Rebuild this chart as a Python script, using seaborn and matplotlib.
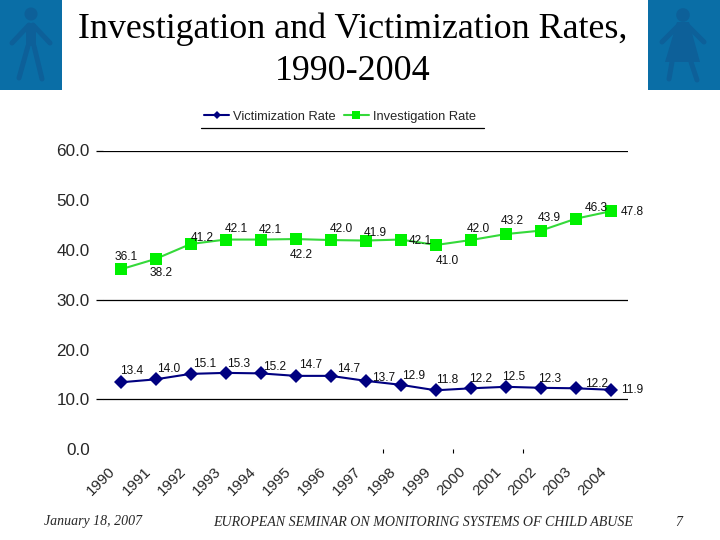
import pandas as pd
import matplotlib
matplotlib.use("Agg")
import matplotlib.pyplot as plt
import matplotlib.transforms as mtrans
from matplotlib.patches import Rectangle, Circle, Polygon
import seaborn as sns

years = list(range(1990, 2005))
victimization = [13.4, 14.0, 15.1, 15.3, 15.2, 14.7, 14.7, 13.7, 12.9, 11.8, 12.2, 12.5, 12.3, 12.2, 11.9]
investigation = [36.1, 38.2, 41.2, 42.1, 42.1, 42.2, 42.0, 41.9, 42.1, 41.0, 42.0, 43.2, 43.9, 46.3, 47.8]
y_ticks = [0, 10, 20, 30, 40, 50, 60]
ruled_ticks = [10, 30, 60]  # only these rules show in the reference

# label offsets from the marker, in pixels (the original labels were hand placed)
vic_offsets = [(11.5, 11), (13, 10), (14.5, 10), (12.5, 8.5), (14, 6), (15, 11), (18, 7), (18, 3),
               (13, 9), (11, 10), (10, 9), (8, 10), (9, 9), (21, 4), (21, 0)]
inv_offsets = [(5.5, 12), (6, -14), (12, 6), (11, 11), (10, 10), (6, -16), (11, 11), (10, 8),
               (20, -1), (11, -16), (7, 11), (6, 13), (8, 13), (20, 11), (21, -1)]

df = pd.DataFrame({
    "year": years * 2,
    "rate": victimization + investigation,
    "series": ["Victimization Rate"] * 15 + ["Investigation Rate"] * 15,
})

sns.set_style("white")
plt.rcParams["font.family"] = ["Liberation Sans", "DejaVu Sans"]

fig = plt.figure(figsize=(7.2, 5.4), dpi=100)
W, H = 720, 540
ax = fig.add_axes([103 / W, 1 - 449 / H, 525.5 / W, 298.5 / H])

palette = {"Victimization Rate": "#000080", "Investigation Rate": "#35D93A"}
sns.lineplot(data=df, x="year", y="rate", hue="series", style="series", palette=palette,
             markers={"Victimization Rate": "D", "Investigation Rate": "s"}, dashes=False,
             linewidth=1.5, ax=ax, legend="brief", zorder=3)

# seaborn draws both markers from the line colour, green ones are brighter
for line in ax.get_lines():
    if line.get_marker() == "D":
        line.set_markersize(7.2)
        line.set_markerfacecolor("#000080")
        line.set_markeredgewidth(0)
    elif line.get_marker() == "s":
        line.set_markersize(9.2)
        line.set_markerfacecolor("#00F000")
        line.set_markeredgewidth(0)

ax.set_xlim(1989.5, 2004.5)
ax.set_ylim(0, 60)
ax.set_xlabel("")
ax.set_ylabel("")
sns.despine(ax=ax, left=True, bottom=True, top=True, right=True)

ax.set_yticks(y_ticks)
ax.set_yticklabels([f"{v:.1f}" for v in y_ticks], fontsize=12.3)
ax.grid(axis="y", color="black", linewidth=0.9)
ax.set_axisbelow(True)
ax.tick_params(axis="y", length=5, width=0.9, color="black", pad=4.5, left=True)
for tick, val in zip(ax.yaxis.get_major_ticks(), y_ticks):
    if val not in ruled_ticks:
        tick.gridline.set_visible(False)
        tick.tick1line.set_visible(False)

ax.set_xticks(years)
ax.set_xticklabels(years, rotation=45, ha="right", rotation_mode="anchor", fontsize=10.8)
ax.tick_params(axis="x", length=0, pad=11, bottom=False)
shift = mtrans.ScaledTranslation(-12 / 100, 0, fig.dpi_scale_trans)
for lab in ax.get_xticklabels():
    lab.set_transform(lab.get_transform() + shift)

# the three stray tick marks on the axis
ax.set_xticks([1997.5, 1999.5, 2001.5], minor=True)
ax.tick_params(axis="x", which="minor", length=3, width=0.8, color="black", bottom=True)

for yr, v, off in zip(years, victimization, vic_offsets):
    ax.annotate(f"{v:.1f}", (yr, v), xytext=(off[0] * 0.72, off[1] * 0.72), textcoords="offset points",
                ha="center", va="center", fontsize=8.6, color="#111111", zorder=5)
for yr, v, off in zip(years, investigation, inv_offsets):
    ax.annotate(f"{v:.1f}", (yr, v), xytext=(off[0] * 0.72, off[1] * 0.72), textcoords="offset points",
                ha="center", va="center", fontsize=8.6, color="#111111", zorder=5)

handles, labels = ax.get_legend_handles_labels()
for h in handles:
    h.set_markersize(5.5 if h.get_marker() == "s" else 4.5)
    h.set_markeredgewidth(0)
handles[1].set_markerfacecolor("#00F000")
ax.legend(handles, labels, ncols=2, frameon=False, fontsize=9.3, loc="center",
          bbox_to_anchor=(340 / W, 1 - 117 / H), bbox_transform=fig.transFigure,
          handlelength=1.95, handletextpad=0.3, columnspacing=0.62, borderpad=0)

# everything else is placed in pixel coordinates on a full figure overlay
over = fig.add_axes([0, 0, 1, 1], zorder=-1)
over.set_xlim(0, W)
over.set_ylim(H, 0)
over.axis("off")

over.plot([201, 484], [127.5, 127.5], color="black", linewidth=0.9)

serif = ["Liberation Serif", "DejaVu Serif"]
over.text(353, 29, "Investigation and Victimization Rates,", family=serif, fontsize=25.9,
          ha="center", va="center", color="black")
over.text(353, 72, "1990-2004", family=serif, fontsize=25.9, ha="center", va="center", color="black")
over.text(44, 522, "January 18, 2007", family=serif, style="italic", fontsize=10, va="center")
over.text(213, 522, "EUROPEAN SEMINAR ON MONITORING SYSTEMS OF CHILD ABUSE", family=serif,
          style="italic", fontsize=10.1, va="center")
over.text(679, 522, "7", family=serif, style="italic", fontsize=10, ha="center", va="center")

# the two child icons
icon_bg = "#0A6EA6"
icon_fg = "#0D6099"
limb = dict(color=icon_fg, linewidth=3.6, solid_capstyle="round", solid_joinstyle="round")

over.add_patch(Rectangle((0, 0), 62, 89.5, color=icon_bg, linewidth=0))
over.add_patch(Circle((31, 14), 6.5, color=icon_fg, linewidth=0))
over.add_patch(Polygon([(26, 24), (36, 24), (36, 46), (26, 46)], color=icon_fg, linewidth=0))
over.plot([29, 12], [25, 43], **limb)
over.plot([33, 50], [25, 43], **limb)
over.plot([28, 19], [46, 78], **limb)
over.plot([34, 42], [46, 79], **limb)

over.add_patch(Rectangle((648, 0), 72, 89.5, color=icon_bg, linewidth=0))
over.add_patch(Circle((683, 15), 6.8, color=icon_fg, linewidth=0))
over.add_patch(Polygon([(677, 22), (689, 22), (700, 62), (665, 62)], color=icon_fg, linewidth=0))
over.plot([679, 662], [25, 42], **limb)
over.plot([687, 704], [25, 42], **limb)
over.plot([672, 669], [62, 79], **limb)
over.plot([691, 697], [62, 80], **limb)

fig.savefig("out.png", dpi=100)
